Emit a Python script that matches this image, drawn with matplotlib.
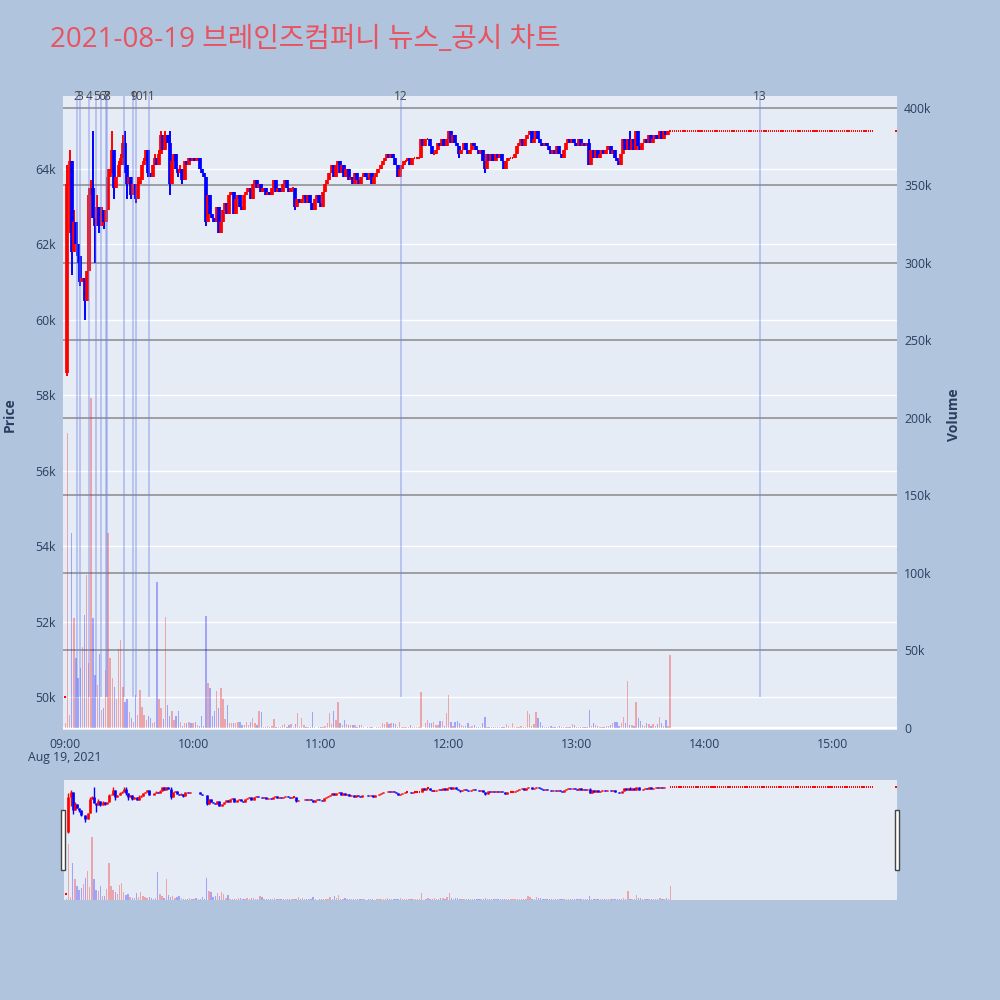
import matplotlib.pyplot as plt
from matplotlib.transforms import blended_transform_factory
from matplotlib.patches import Rectangle

plt.rcParams['font.family'] = ['Open Sans', 'Noto Sans CJK KR', 'DejaVu Sans']

# 분봉 데이터 (09:00 부터 1분 단위, 분 번호 0..284)
closes = [
    50000, 63600, 64200, 61800, 62600, 62000, 61700, 61000, 61100, 60500,
    61300, 63300, 63500, 62700, 62500, 63000, 62500, 62900, 62600, 62900,
    63800, 63900, 64500, 63500, 63800, 64100, 64300, 64700, 64100, 63600,
    63800, 63300, 63600, 63200, 63600, 63700, 64100, 64200, 64500, 63900,
    63800, 64100, 64300, 64100, 64400, 64900, 64500, 64900, 64700, 63600,
    64200, 64400, 64000, 63900, 64000, 63700, 64200, 64100, 64300, 64200,
    64300, 64200, 64300, 64000, 63900, 63800, 62600, 63300, 62800, 62700,
    62600, 63000, 62300, 62600, 62900, 63100, 62800, 63300, 63400, 62800,
    63200, 63300, 63000, 62900, 63300, 63400, 63500, 63200, 63600, 63700,
    63500, 63600, 63400, 63500, 63300, 63400, 63300, 63500, 63700, 63400,
    63500, 63400, 63600, 63700, 63500, 63400, 63500, 63500, 63000, 63200,
    63100, 63200, 63300, 63100, 63300, 63100, 62900, 63200, 63300, 63100,
    63000, 63400, 63600, 63700, 63900, 64100, 63800, 64100, 64200, 63900,
    64100, 63800, 64000, 63700, 63800, 63600, 63900, 63700, 63600, 63800,
    63900, 63800, 63700, 63900, 63600, 63800, 63900, 64000, 64100, 64200,
    64300, 64400, 64300, 64400, 64300, 64100, 63800, 64000, 64100, 64200,
    64200, 64300, 64100, 64300, 64300, 64300, 64300, 64800, 64600, 64800,
    64800, 64600, 64400, 64400, 64500, 64700, 64600, 64800, 64600, 64800,
    65000, 64700, 64900, 64700, 64600, 64400, 64500, 64700, 64500, 64400,
    64500, 64700, 64600, 64500, 64400, 64500, 64200, 64000, 64400, 64200,
    64400, 64200, 64400, 64300, 64400, 64200, 64000, 64200, 64300, 64300,
    64300, 64400, 64600, 64700, 64800, 64600, 64800, 64900, 65000, 64700,
    64800, 65000, 64800, 64700, 64600, 64700, 64600, 64500, 64400, 64500,
    64400, 64600, 64400, 64300, 64500, 64700, 64800, 64700, 64800, 64700,
    64600, 64800, 64600, 64700, 64600, 64700, 64100, 64500, 64300, 64500,
    64300, 64400, 64500, 64400, 64500, 64600, 64400, 64500, 64300, 64200,
    64100, 64400, 64800, 64500, 64800, 64500, 64800, 64500, 65000, 64600,
    64500, 64700, 64800, 64700, 64900, 64700, 64800, 64900, 64800, 65000,
    64800, 65000, 64900, 65000, 65000,
]
first_open = 58600  # 두번째 봉 시가

# 꼬리 (분 번호: 가격)
wick_high = {1: 64100, 2: 64500, 4: 62900, 11: 63500, 12: 63700, 13: 65000,
             15: 63300, 17: 63000, 20: 64000, 21: 64000, 22: 65000, 25: 64200,
             26: 64400, 27: 64900, 28: 65000, 34: 63800, 35: 63800, 37: 64300,
             42: 64400, 44: 64500, 45: 65000, 47: 65000, 49: 65000, 54: 64100,
             180: 65000, 246: 64800, 263: 64800, 265: 65000, 269: 65000}
wick_low = {1: 58500, 2: 62300, 3: 61200, 6: 61500, 7: 60900, 9: 60000,
            14: 61500, 16: 62300, 18: 62400, 23: 63200, 28: 63900, 29: 63200,
            31: 63200, 33: 63100, 39: 63800, 49: 63300, 53: 63800, 55: 63600,
            66: 62500, 72: 62300, 108: 62900, 185: 64300, 197: 63900,
            206: 64000, 246: 64100, 247: 64100, 260: 64100}

# 거래량 (천주)
volumes_k = [
    3, 190, 8.4, 125.6, 70.7, 45, 32, 38.5, 52.5, 73,
    98.7, 41.7, 213, 70.7, 34, 27.7, 48, 11.6, 12.7, 37.4,
    125.6, 45, 32, 26.7, 19, 51, 57, 26.7, 17, 19,
    10.5, 6.2, 4, 21, 8.4, 24.5, 13.7, 8.4, 5.4, 7.5,
    6.2, 3, 4, 94, 19, 12.7, 6, 71.8, 15, 7.5,
    10.7, 5, 7.5, 10.7, 4, 1, 3.5, 3, 4, 3,
    3, 4, 2, 1.5, 7.5, 1, 72, 28.8, 25.6, 8,
    11, 24, 12.9, 26, 19, 6, 15, 3, 3.5, 3.5,
    3.5, 4, 4, 2, 2, 4, 2, 4, 6.5, 3,
    2, 11, 10, 0.6, 0.8, 1, 0.5, 1, 6, 0.5,
    0.5, 0.8, 1.9, 2.6, 0.5, 1.9, 2.6, 0.8, 2.6, 9.7,
    0.8, 6.5, 1.9, 0.5, 0.8, 0.8, 10, 0.5, 0.3, 0.5,
    0.8, 0.8, 1, 3, 9.7, 2.6, 11, 5, 17, 3,
    1.9, 5, 2.6, 1.9, 1.9, 1.9, 1.9, 0.8, 1.9, 1.9,
    0.5, 0.3, 0.5, 0.8, 0.5, 0.3, 0.5, 0.8, 0.5, 3.5,
    2.6, 4, 2.6, 3.5, 3.5, 2.6, 0.8, 4, 0.8, 0.5,
    0.5, 0.5, 1.9, 0.5, 0.5, 0.8, 0.5, 23.4, 0.3, 3.5,
    5, 3, 3.5, 4, 2, 2, 4.7, 4.3, 1.3, 9.5,
    21, 4, 1.5, 4, 4.5, 3, 2, 1.3, 1.3, 3,
    0.8, 1.3, 2, 0.8, 0.8, 0.8, 3, 7, 0.8, 0.8,
    0.8, 0.5, 0.5, 0.8, 0.8, 0.5, 0.8, 2.5, 1, 0.8,
    3, 0.5, 0.5, 0.8, 1.3, 0.8, 0.8, 11, 8.8, 1.3,
    2.5, 10.3, 6.4, 4, 1.3, 0.8, 0.8, 0.5, 1.3, 0.8,
    0.8, 0.8, 1.3, 0.8, 0.8, 0.5, 0.8, 0.8, 2.5, 2,
    0.8, 0.5, 0.8, 0.5, 0.5, 0.8, 11.6, 1.3, 3, 2,
    1.3, 0.8, 0.8, 0.8, 1.3, 1.5, 2, 3, 3.8, 3.8,
    1.3, 3, 7, 3, 30.5, 2, 2.2, 1.3, 16.8, 6.5,
    4.7, 2, 1.3, 3.4, 2.5, 1.3, 2.5, 1, 2.5, 7,
    3.5, 1, 5, 1, 47,
]

# 장 마감 후 단일가 구간
after_minutes = list(range(285, 380)) + [390]
after_price = 65000

# 뉴스/공시 시점 (09:00 기준 분)
news_minutes = [5.6, 7.0, 11.3, 14.5, 16.9, 19.2, 19.7, 27.7, 31.9, 33.4, 39.4, 157.5, 326.3]
news_labels = ['2', '3', '4', '5', '6', '7', '8', '', '9', '10', '11', '12', '13']

price_ticks = [50000, 52000, 54000, 56000, 58000, 60000, 62000, 64000]
volume_ticks = [0, 50000, 100000, 150000, 200000, 250000, 300000, 350000, 400000]
time_ticks = [0, 60, 120, 180, 240, 300, 360]
time_labels = ['09:00', '10:00', '11:00', '12:00', '13:00', '14:00', '15:00']

title = '2021-08-19 브레인즈컴퍼니 뉴스_공시 차트'

UP = '#FF0000'
DOWN = '#0000FF'
TXT = '#2a3f5f'

n = len(closes)
minutes = list(range(n))
opens = [closes[0], first_open] + closes[1:-1]
highs = [max(o, c) for o, c in zip(opens, closes)]
lows = [min(o, c) for o, c in zip(opens, closes)]
for k, v in wick_high.items():
    highs[k] = max(highs[k], v)
for k, v in wick_low.items():
    lows[k] = min(lows[k], v)
colors = [UP if c >= o else DOWN for o, c in zip(opens, closes)]
volumes = [v * 1000 for v in volumes_k]

PRICE_LIM = (49123, 65935)
VOL_LIM = (-1290, 407700)
X_LIM = (-1.1, 390.5)


def draw(ax_v, ax_p, body_lw, wick_lw):
    ax_v.bar(minutes, volumes, width=0.65, color=colors, alpha=0.3, linewidth=0, zorder=2)
    ax_p.vlines(minutes, lows, highs, colors=colors, linewidth=wick_lw, zorder=3)
    body_x = [m for m in minutes if opens[m] != closes[m]]
    ax_p.vlines(body_x, [opens[m] for m in body_x], [closes[m] for m in body_x],
                colors=[colors[m] for m in body_x], linewidth=body_lw, zorder=3)
    doji_x = [m for m in minutes if opens[m] == closes[m]]
    ax_p.hlines([closes[m] for m in doji_x], [m - 0.4 for m in doji_x],
                [m + 0.4 for m in doji_x], colors=[colors[m] for m in doji_x],
                linewidth=1.5, zorder=3)
    ax_p.hlines([after_price] * len(after_minutes), [m - 0.3 for m in after_minutes],
                [m + 0.3 for m in after_minutes], colors=UP, linewidth=1.4, zorder=3)
    for a in (ax_v, ax_p):
        a.set_xlim(*X_LIM)
        for s in a.spines.values():
            s.set_visible(False)
    ax_v.set_ylim(*VOL_LIM)
    ax_p.set_ylim(*PRICE_LIM)


fig = plt.figure(figsize=(10, 10), dpi=100, facecolor='#B0C4DE')

# 메인 차트
ax_v = fig.add_axes([0.063, 0.27, 0.834, 0.634])
ax_v.set_facecolor('#E5ECF6')
ax_p = ax_v.twinx()
draw(ax_v, ax_p, body_lw=2.7, wick_lw=1.4)

# 가격 격자 (흰색), 거래량 격자 (회색)
tr = blended_transform_factory(ax_v.transAxes, ax_p.transData)
for p in price_ticks:
    ax_v.plot([0, 1], [p, p], transform=tr, color='white', linewidth=1.0, zorder=0.5)
for v in volume_ticks[1:]:
    ax_v.axhline(v, color='#8a8a8a', linewidth=1.1, zorder=0.6)
ax_v.axhline(0, color='white', linewidth=1.6, zorder=0.7)

# 뉴스 라인
ax_p.vlines(news_minutes, 50000, 66500, colors='#6f80e8', alpha=0.45, linewidth=1.2, zorder=4)
for m, lab in zip(news_minutes, news_labels):
    if lab:
        ax_p.text(m, 1.0, lab, transform=blended_transform_factory(ax_p.transData, ax_p.transAxes),
                  ha='center', va='center', fontsize=8.6, color='#444444', clip_on=False)

ax_p.yaxis.tick_left()
ax_p.set_yticks(price_ticks)
ax_p.set_yticklabels([f'{p // 1000}k' for p in price_ticks])
ax_v.yaxis.tick_right()
ax_v.set_yticks(volume_ticks)
ax_v.set_yticklabels(['0'] + [f'{v // 1000}k' for v in volume_ticks[1:]])
ax_v.set_xticks(time_ticks)
ax_v.set_xticklabels(time_labels)
for a in (ax_v, ax_p):
    a.tick_params(length=0, labelsize=8.8, labelcolor=TXT, pad=5)
ax_v.tick_params(axis='x', pad=6)
ax_p.tick_params(axis='x', bottom=False, labelbottom=False)
fig.text(0.065, 0.242, 'Aug 19, 2021', ha='center', va='center', fontsize=8.8, color=TXT)

fig.text(0.010, 0.585, 'Price', rotation=90, ha='center', va='center',
         fontsize=10, fontweight='bold', color=TXT)
fig.text(0.954, 0.585, 'Volume', rotation=90, ha='center', va='center',
         fontsize=10, fontweight='bold', color=TXT)
fig.text(0.05, 0.960, title, ha='left', va='center', fontsize=20, color='#E9525F')

# 레인지 슬라이더
sl_v = fig.add_axes([0.064, 0.100, 0.833, 0.120])
sl_v.set_facecolor('#E5ECF6')
sl_p = sl_v.twinx()
draw(sl_v, sl_p, body_lw=1.9, wick_lw=1.0)
for a in (sl_v, sl_p):
    a.set_xticks([])
    a.set_yticks([])
for hx in (0.0605, 0.8945):
    fig.patches.append(Rectangle((hx, 0.130), 0.0045, 0.060, transform=fig.transFigure,
                                 facecolor='white', edgecolor='#444444', linewidth=1.0))

fig.savefig('out.png', dpi=100, facecolor=fig.get_facecolor())
